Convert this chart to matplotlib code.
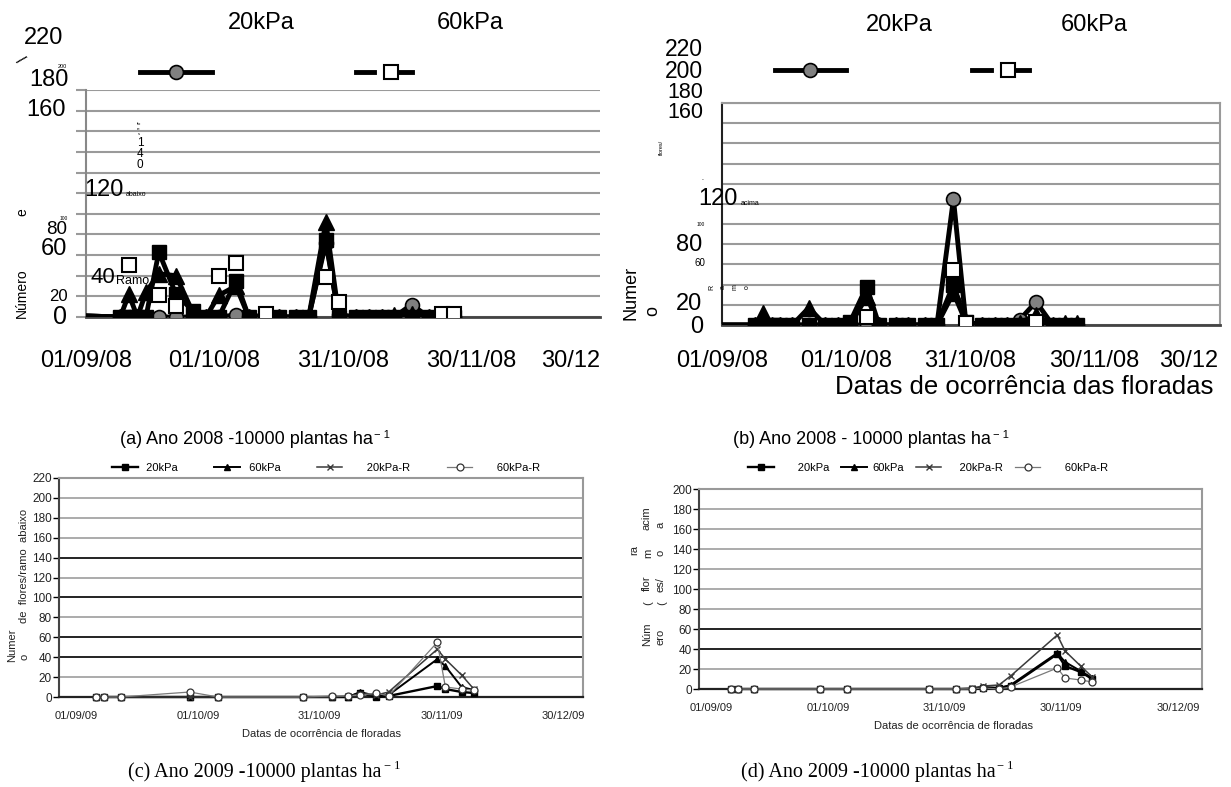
import numpy as np
import matplotlib
matplotlib.use("Agg")
import matplotlib.pyplot as plt
import matplotlib.dates as mdates
from matplotlib.lines import Line2D

SANS = ["Liberation Sans", "DejaVu Sans"]
SERIF = ["Liberation Serif", "DejaVu Serif"]
plt.rcParams["font.family"] = SANS

series_names = ["20kPa", "60kPa", "20kPa-R", "60kPa-R"]

# ---------------- 2008 data (panels a, b) ----------------
dates_2008 = ["2008-09-01", "2008-09-09", "2008-09-11", "2008-09-13", "2008-09-15",
              "2008-09-18", "2008-09-22", "2008-09-26", "2008-09-29", "2008-10-02",
              "2008-10-06", "2008-10-09", "2008-10-13", "2008-10-16", "2008-10-20",
              "2008-10-23", "2008-10-27", "2008-10-30", "2008-11-03", "2008-11-06",
              "2008-11-09", "2008-11-12", "2008-11-16", "2008-11-20", "2008-11-23",
              "2008-11-26"]
a_20kPa = [1, 0, 0, 0, 0, 63, 22, 6, 0, 0, 35, 0, 0, 0, 0, 0, 75, 0, 0, 0, 0, 0, 0, 0, 0, 0]
a_60kPa = [1, 0, 22, 0, 24, 42, 40, 4, 0, 21, 30, 0, 2, 0, 0, 0, 92, 2, 0, 0, 0, 2, 3, 0, 2, 3]
a_20kPaR = [1, 0, 0, 0, 0, 0, 0, 0, 0, 0, 2, 0, 0, 0, 0, 0, 72, 2, 0, 0, 0, 0, 12, 0, 0, 0]
a_60kPaR = [1, 0, 50, 0, 0, 21, 11, 0, 0, 40, 52, 0, 3, 0, 0, 0, 39, 15, 0, 0, 0, 0, 0, 0, 3, 3]

b_20kPa = [0, 0, 0, 0, 0, 0, 0, 0, 0, 3, 38, 0, 0, 0, 0, 0, 40, 3, 0, 0, 0, 0, 0, 0, 0, 0]
b_60kPa = [0, 0, 12, 0, 0, 0, 17, 0, 0, 0, 28, 0, 0, 0, 0, 0, 32, 3, 0, 0, 0, 2, 10, 0, 2, 2]
b_20kPaR = [0, 0, 0, 0, 0, 0, 0, 0, 0, 0, 0, 0, 0, 0, 0, 0, 125, 3, 0, 0, 0, 5, 23, 0, 0, 0]
b_60kPaR = [0, 0, 0, 0, 0, 0, 0, 0, 0, 0, 8, 0, 0, 0, 0, 0, 55, 2, 0, 0, 0, 0, 3, 0, 0, 0]

# ---------------- 2009 data (panels c, d) ----------------
dates_2009 = ["2009-09-06", "2009-09-08", "2009-09-12", "2009-09-29", "2009-10-06",
              "2009-10-27", "2009-11-03", "2009-11-07", "2009-11-10", "2009-11-14",
              "2009-11-17", "2009-11-29", "2009-12-01", "2009-12-05", "2009-12-08"]
c_20kPa = [0, 0, 0, 0, 0, 0, 0, 0, 4, 0, 1, 11, 8, 5, 4]
c_60kPa = [0, 0, 0, 0, 0, 0, 0, 0, 5, 1, 2, 38, 31, 10, 7]
c_20kPaR = [0, 0, 0, 0, 0, 0, 0, 1, 3, 2, 5, 48, 38, 22, 8]
c_60kPaR = [0, 0, 0, 5, 0, 0, 1, 1, 2, 4, 1, 55, 10, 8, 7]

d_20kPa = [0, 0, 0, 0, 0, 0, 0, 0, 1, 1, 3, 35, 23, 17, 10]
d_60kPa = [0, 0, 0, 0, 0, 0, 0, 0, 2, 1, 4, 36, 27, 18, 11]
d_20kPaR = [0, 0, 0, 0, 0, 0, 0, 1, 3, 4, 13, 54, 38, 23, 12]
d_60kPaR = [0, 0, 0, 0, 0, 0, 0, 0, 1, 0, 2, 21, 11, 9, 7]

ticks_2008 = ["2008-09-01", "2008-10-01", "2008-10-31", "2008-11-30", "2008-12-30"]
ticklabels_2008 = ["01/09/08", "01/10/08", "31/10/08", "30/11/08", "30/12"]
ticks_2009 = ["2009-09-01", "2009-10-01", "2009-10-31", "2009-11-30", "2009-12-30"]
ticklabels_2009 = ["01/09/09", "01/10/09", "31/10/09", "30/11/09", "30/12/09"]
yticks_top = list(range(0, 221, 20))
yticks_c = list(range(0, 221, 20))
yticks_d = list(range(0, 201, 20))

W, H = 1231, 787
fig = plt.figure(figsize=(W / 100, H / 100), dpi=100)


def add_ax(x0, y0, x1, y1):
    return fig.add_axes([x0 / W, 1 - y1 / H, (x1 - x0) / W, (y1 - y0) / H])


def txt(x, y, s, size, ha="center", va="center", **kw):
    return fig.text(x / W, 1 - y / H, s, fontsize=size, ha=ha, va=va, **kw)


def fig_line(xs, ys, **kw):
    fig.add_artist(Line2D([v / W for v in xs], [1 - v / H for v in ys],
                          transform=fig.transFigure, **kw))


# ---------------- top panels ----------------
def top_panel(ax, s20, s60, s20r, s60r, xr, boxed, pad):
    x = mdates.datestr2num(dates_2008)
    base = mdates.datestr2num("2008-09-01")
    ax.plot(x, s20r, color="black", lw=3.5, marker="o", ms=10, mfc="#808080", mec="black",
            mew=1.2, markevery=slice(1, None), zorder=3)
    ax.plot(x, s60, color="black", lw=3.5, marker="^", ms=11, mfc="black", mec="black",
            markevery=slice(1, None), zorder=4)
    ax.plot(x, s20, color="black", lw=3.5, marker="s", ms=10, mfc="black", mec="black",
            markevery=slice(1, None), zorder=5)
    # white squares: only the non-zero ones show in the reference
    white = np.ma.masked_equal(np.array(s60r, dtype=float), 0)
    ax.plot(x[1:], white[1:], ls="none", marker="s", ms=10, mfc="white", mec="black",
            mew=1.5, zorder=6)
    ax.set_xlim(base, base + xr)
    ax.set_ylim(0, 220)
    ax.set_yticks(yticks_top)
    ax.set_yticklabels([])
    ax.grid(axis="y", color="#9a9a9a", lw=1.5)
    ax.set_axisbelow(True)
    ax.set_xticks(mdates.datestr2num(ticks_2008))
    ax.set_xticklabels(ticklabels_2008, fontsize=17)
    ax.get_xticklabels()[-1].set_ha("right")
    ax.tick_params(axis="x", length=0, pad=pad)
    ax.spines["bottom"].set_color("#444444")
    ax.spines["bottom"].set_linewidth(2)
    if boxed:
        ax.spines["left"].set_color("#222222")
        ax.spines["left"].set_linewidth(1.5)
        for s in ("top", "right"):
            ax.spines[s].set_color("#9a9a9a")
            ax.spines[s].set_linewidth(1.5)
        ax.tick_params(axis="y", length=0)
    else:
        ax.spines["left"].set_color("#888888")
        ax.spines["left"].set_linewidth(1.5)
        for s in ("top", "right"):
            ax.spines[s].set_visible(False)
        ax.tick_params(axis="y", length=7, width=1.5, color="#9a9a9a")
    for s in ax.spines.values():
        s.set_zorder(2)


ax_a = add_ax(86, 90, 600, 317)
top_panel(ax_a, a_20kPa, a_60kPa, a_20kPaR, a_60kPaR, 120, False, 24)
ax_b = add_ax(722, 103, 1220, 325)
top_panel(ax_b, b_20kPa, b_60kPa, b_20kPaR, b_60kPaR, 120.5, True, 18)

# legends of top panels (labels above the samples)
for (lx0, lx1, cx, ly) in [(140, 212, 176, 72), (775, 846, 810, 70)]:
    fig_line([lx0, lx1], [ly, ly], color="black", lw=3.5)
    fig_line([cx], [ly], ls="none", marker="o", ms=10, mfc="#808080", mec="black", mew=1.2)
for (segs, cx, ly) in [(((356, 374), (398, 412)), 391, 72), (((972, 991), (1011, 1029)), 1008, 70)]:
    for sx0, sx1 in segs:
        fig_line([sx0, sx1], [ly, ly], color="black", lw=3.5)
    fig_line([cx], [ly], ls="none", marker="s", ms=10, mfc="white", mec="black", mew=1.5)

txt(261, 23, "20kPa", 17)
txt(470, 23, "60kPa", 17)
txt(899, 25, "20kPa", 17)
txt(1094, 25, "60kPa", 17)

# scattered axis text of panel (a)
txt(44, 38, "220", 17)
txt(20, 60, "/", 12, rotation=-45)
txt(62, 67, "200", 4)
txt(49, 80, "180", 17)
txt(46, 110, "160", 17)
txt(139, 124, "flo", 3)
txt(139, 129, "re", 3)
txt(139, 134, "s", 3)
txt(140, 143, "1", 8.5)
txt(140, 154, "4", 8.5)
txt(140, 165, "0", 8.5)
txt(104, 190, "120", 17)
txt(126, 195, "abaixo", 5, ha="left")
txt(22, 212, "e", 10, rotation=90)
txt(64, 218, "100", 3.5)
txt(57, 229, "80", 13.5)
txt(54, 249, "60", 17)
txt(103, 277, "40", 16)
txt(116, 281, "Ramo", 9, ha="left")
txt(22, 293, "Número", 10, rotation=90)
txt(58, 297, "20", 12)
txt(60, 317, "0", 18)

# scattered axis text of panel (b)
txt(703, 49, "220", 16.5, ha="right")
txt(703, 71, "200", 16.5, ha="right")
txt(703, 92, "180", 15.5, ha="right")
txt(703, 112, "160", 15.5, ha="right")
txt(661, 147, "flores/", 4, rotation=90)
txt(703, 180, "-", 4)
txt(718, 199, "120", 17)
txt(741, 203, "acima", 5, ha="left")
txt(701, 225, "100", 3.5)
txt(689, 245, "80", 17)
txt(700, 263, "60", 7)
for gx, gl in zip([712, 723, 735, 747], ["R", "a", "m", "o"]):
    txt(gx, 287, gl, 5, rotation=90)
txt(631, 293, "Numer", 13, rotation=90)
txt(653, 311, "o", 13, rotation=90)
txt(689, 304, "20", 17)
txt(697, 327, "0", 17)
txt(1213, 387, "Datas de ocorrência das floradas", 18.5, ha="right")


# ---------------- bottom panels ----------------
def bottom_panel(ax, vals, xl, xr, ymax, yticks, dark, leg_box, leg_labels):
    x = mdates.datestr2num(dates_2009)
    base = mdates.datestr2num("2009-09-01")
    styles = [dict(color="black", lw=1.7, marker="s", ms=5, mfc="black", mec="black"),
              dict(color="black", lw=1.4, marker="^", ms=5, mfc="black", mec="black"),
              dict(color="#3a3a3a", lw=1.1, marker="x", ms=5, mec="#3a3a3a", mew=1.0),
              dict(color="#7a7a7a", lw=0.9, marker="o", ms=5, mfc="white", mec="#333333", mew=0.9)]
    handles = []
    for v, st in zip(vals, styles):
        h, = ax.plot(x, v, zorder=3, clip_on=False, **st)
        handles.append(h)
    ax.set_xlim(base + xl, base + xr)
    ax.set_ylim(0, ymax)
    for yv in yticks[1:-1]:
        ax.axhline(yv, color="#222222" if yv in dark else "#ababab", lw=1.4, zorder=1)
    ax.set_yticks(yticks)
    ax.tick_params(axis="y", labelsize=8.5, length=4, width=1, labelcolor="#222222", pad=1)
    ax.set_xticks(mdates.datestr2num(ticks_2009))
    ax.set_xticklabels(ticklabels_2009, fontsize=8)
    ax.tick_params(axis="x", length=0, pad=10, labelcolor="#222222")
    ax.spines["left"].set_color("#444444")
    ax.spines["left"].set_linewidth(1.5)
    ax.spines["bottom"].set_color("#222222")
    ax.spines["bottom"].set_linewidth(1.6)
    for s in ("top", "right"):
        ax.spines[s].set_color("#999999")
        ax.spines[s].set_linewidth(1.5)
    x0, x1, yc = leg_box
    ax.legend(handles, leg_labels, ncol=4, mode="expand", frameon=False, fontsize=8,
              loc="center", handlelength=2.3, handletextpad=0.5, borderpad=0, borderaxespad=0,
              bbox_to_anchor=(x0 / W, 1 - (yc + 6) / H, (x1 - x0) / W, 12 / H),
              bbox_transform=fig.transFigure)


ax_c = add_ax(59, 478, 583, 697)
bottom_panel(ax_c, [c_20kPa, c_60kPa, c_20kPaR, c_60kPaR], -4.2, 124.9, 220, yticks_c,
             [40, 60, 100, 140], (112, 540, 468),
             [" 20kPa", " 60kPa", "      20kPa-R", "      60kPa-R"])
ax_d = add_ax(699, 489, 1202, 689)
bottom_panel(ax_d, [d_20kPa, d_60kPa, d_20kPaR, d_60kPaR], -3.1, 126.2, 200, yticks_d,
             [40, 60], (748, 1108, 468),
             ["      20kPa", "60kPa", "    20kPa-R", "      60kPa-R"])

txt(322, 734, "Datas de ocorrência de floradas", 8, color="#222222")
txt(954, 726, "Datas de ocorrência de floradas", 8, color="#222222")

# y-label fragments of panel (c)
txt(24, 566, "de  flores/ramo  abaixo", 8, rotation=90, color="#222222")
txt(12, 645, "Numer", 8, rotation=90, color="#222222")
txt(24, 657, "o", 8, rotation=90, color="#222222")

# y-label fragments of panel (d)
for (gx, gy, gs) in [(647, 518, "acim"), (660, 525, "a"), (634, 550, "ra"), (648, 553, "m"),
                     (660, 553, "o"), (647, 583, "flor"), (660, 585, "es/"), (648, 603, "("),
                     (662, 603, "("), (647, 634, "Núm"), (660, 637, "ero")]:
    txt(gx, gy, gs, 8, rotation=90, color="#222222")

# ---------------- captions ----------------
renderer = fig.canvas.get_renderer()


def caption(x, y, s, size, family):
    t = txt(x, y, s, size, family=family)
    bb = t.get_window_extent(renderer=renderer)
    fig.text((bb.x1 + 2) / W, (bb.y1 - size * 0.25) / H, "− 1", fontsize=size * 0.62,
             ha="left", va="center", family=family)


caption(246, 440, "(a) Ano 2008 -10000 plantas ha", 13, SANS)
caption(862, 440, "(b) Ano 2008 - 10000 plantas ha", 13, SANS)
caption(255, 772, "(c) Ano 2009 -10000 plantas ha", 14.5, SERIF)
caption(868, 772, "(d) Ano 2009 -10000 plantas ha", 14.5, SERIF)

fig.savefig("out.png", dpi=100)
